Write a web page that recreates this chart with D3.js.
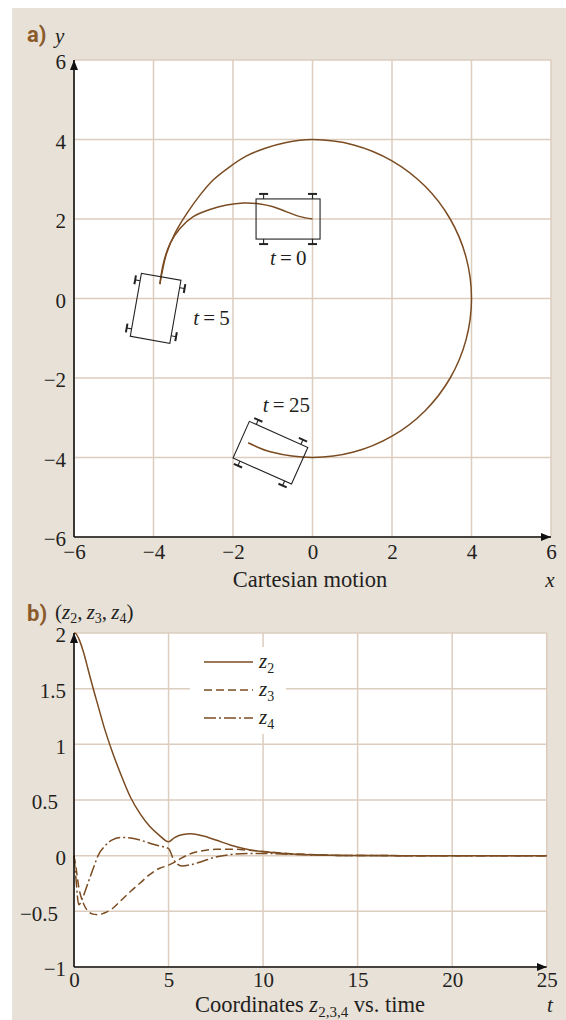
<!DOCTYPE html>
<html>
<head>
<meta charset="utf-8">
<script src="https://cdn.jsdelivr.net/npm/d3@7"></script>
<style>
body { margin: 0; background: #fff; }
text { fill: #231f20; }
</style>
</head>
<body>
<svg id="fig" width="566" height="1020"></svg>
<script>
// ---- data (panel a: cartesian motion) ----
var xyTicks = [-6, -4, -2, 0, 2, 4, 6];

// path t = 0 .. 5
var pathAx = [0, -0.31, -0.65, -0.99, -1.32, -1.74, -2.16, -2.58, -3.0, -3.33, -3.58, -3.75, -3.84];
var pathAy = [2.0, 2.06, 2.18, 2.31, 2.38, 2.40, 2.35, 2.24, 2.06, 1.77, 1.39, 0.89, 0.36];

// path t = 5 .. 25
var pathBx = [-3.84, -3.79, -3.67, -3.46, -3.16, -2.83, -2.50, -2.10, -1.67, -1.19, -0.69, 0, 1.035, 2.0, 2.828, 3.464,
              3.864, 4.0, 3.864, 3.464, 2.828, 2.0, 1.035, 0, -1.035, -1.62];
var pathBy = [0.36, 0.63, 1.14, 1.64, 2.14, 2.60, 2.98, 3.30, 3.58, 3.78, 3.92, 4.0, 3.864, 3.464, 2.828, 2.0,
              1.035, 0, -1.035, -2.0, -2.828, -3.464, -3.864, -4.0, -3.864, -3.63];

// robot snapshots
var carLabels = ["0", "5", "25"];
var carX = [0, -3.84, -1.62];
var carY = [2.0, 0.36, -3.63];
var carHeading = [180, 260, -24];     // degrees
var carLabelX = [-1.07, -3.0, -1.25];
var carLabelY = [0.84, -0.67, -2.85];

// ---- data (panel b: coordinates vs time) ----
var tTicks = [0, 5, 10, 15, 20, 25];
var zTicks = [-1, -0.5, 0, 0.5, 1, 1.5, 2];
var tVals = [0, 0.1, 0.25, 0.5, 0.75, 1.0, 1.3, 1.6, 2.0, 2.5, 3.0, 3.5, 4.0, 4.5, 5.0,
             5.3, 5.7, 6.2, 6.8, 7.5, 8.3, 9.2, 10.2, 11.5, 13, 15, 20, 25];
var z2 = [2.0, 1.995, 1.95, 1.83, 1.67, 1.51, 1.33, 1.15, 0.945, 0.72, 0.52, 0.376, 0.265, 0.185, 0.125,
          0.16, 0.188, 0.196, 0.178, 0.14, 0.094, 0.056, 0.032, 0.014, 0.005, 0.001, 0, 0];
var z3 = [0, -0.1, -0.28, -0.43, -0.5, -0.525, -0.53, -0.515, -0.48, -0.4, -0.32, -0.245, -0.17, -0.115, -0.085,
          -0.06, -0.02, 0.02, 0.045, 0.057, 0.058, 0.05, 0.035, 0.018, 0.007, 0.001, 0, 0];
var z4 = [0, -0.2, -0.44, -0.36, -0.24, -0.123, 0.01, 0.08, 0.14, 0.163, 0.158, 0.14, 0.112, 0.088, 0.064,
          -0.045, -0.092, -0.08, -0.05, -0.012, 0.01, 0.02, 0.02, 0.012, 0.005, 0.001, 0, 0];
var seriesNames = ["2", "3", "4"];
var seriesDash = [null, "8,4", "12,3,2,3"];

// ---- style ----
var beige = "#e8e1d8", gridCol = "#dccdbf", brown = "#7b4c22", labelBrown = "#8b5a2b";
var serif = "'Liberation Serif', 'Times New Roman', serif";
var sans = "Roboto, 'Liberation Sans', sans-serif";
var fs = 21, fsTitle = 22.5;

var svg = d3.select("#fig").style("font-family", serif);

svg.append("rect").attr("x", 12).attr("y", 8).attr("width", 554).attr("height", 1012).attr("fill", beige);

var defs = svg.append("defs");
defs.append("marker")
    .attr("id", "arrow")
    .attr("viewBox", "0 0 10 8")
    .attr("refX", 10).attr("refY", 4)
    .attr("markerWidth", 10).attr("markerHeight", 8)
    .attr("markerUnits", "userSpaceOnUse")
    .attr("orient", "auto")
  .append("path").attr("d", "M0,0L10,4L0,8Z").attr("fill", "#111");

function fmt(d) { return d < 0 ? "\u2212" + Math.abs(d) : String(d); }

function drawFrame(x, y, xt, yt) {
  var x0 = x.range()[0], x1 = x.range()[1], y0 = y.range()[0], y1 = y.range()[1];
  svg.append("rect").attr("x", x0).attr("y", y1).attr("width", x1 - x0).attr("height", y0 - y1).attr("fill", "#fff");
  var g = svg.append("g");
  g.selectAll(".vg").data(xt).enter().append("line")
    .attr("x1", d => x(d)).attr("x2", d => x(d)).attr("y1", y0).attr("y2", y1)
    .attr("stroke", gridCol).attr("stroke-width", 1.5);
  g.selectAll(".hg").data(yt).enter().append("line")
    .attr("x1", x0).attr("x2", x1).attr("y1", d => y(d)).attr("y2", d => y(d))
    .attr("stroke", gridCol).attr("stroke-width", 1.5);
}

function drawAxes(x, y, xt, yt, pad) {
  var x0 = x.range()[0], x1 = x.range()[1], y0 = y.range()[0], y1 = y.range()[1];
  var gx = svg.append("g").attr("transform", "translate(0," + y0 + ")")
    .call(d3.axisBottom(x).tickValues(xt).tickSize(0).tickPadding(pad).tickFormat(fmt))
    .attr("font-family", null).attr("font-size", fs);
  gx.select(".domain").remove();
  gx.selectAll("text").attr("dy", "0.45em").style("fill", "#231f20").style("font-family", serif);
  var gy = svg.append("g").attr("transform", "translate(" + x0 + ",0)")
    .call(d3.axisLeft(y).tickValues(yt).tickSize(0).tickPadding(8).tickFormat(fmt))
    .attr("font-family", null).attr("font-size", fs);
  gy.select(".domain").remove();
  gy.selectAll("text").attr("dy", "0.42em").style("fill", "#231f20").style("font-family", serif)
    .attr("dx", d => Math.abs(d) === 0.5 ? -8 : 0);
  svg.append("line").attr("x1", x0).attr("y1", y0).attr("x2", x1).attr("y2", y0)
    .attr("stroke", "#111").attr("stroke-width", 1.6).attr("marker-end", "url(#arrow)");
  svg.append("line").attr("x1", x0).attr("y1", y0).attr("x2", x0).attr("y2", y1)
    .attr("stroke", "#111").attr("stroke-width", 1.6).attr("marker-end", "url(#arrow)");
}

// ================= panel a =================
var ax = d3.scaleLinear().domain([-6, 6]).range([74, 551]);
var ay = d3.scaleLinear().domain([-6, 6]).range([537, 60]);
drawFrame(ax, ay, xyTicks, xyTicks);

var trajLine = d3.line().x(d => ax(d[0])).y(d => ay(d[1])).curve(d3.curveCatmullRom.alpha(0.5));
svg.append("path").datum(d3.zip(pathAx, pathAy)).attr("d", trajLine)
  .attr("fill", "none").attr("stroke", brown).attr("stroke-width", 1.5);
svg.append("path").datum(d3.zip(pathBx, pathBy)).attr("d", trajLine)
  .attr("fill", "none").attr("stroke", brown).attr("stroke-width", 1.5);

// robot bodies
var k = ax(1) - ax(0);
var rear = 0.19, front = 1.42, halfW = 0.505, wheelbase = 1.23;
carX.forEach(function(cx, i) {
  var g = svg.append("g")
    .attr("transform", "translate(" + ax(cx) + "," + ay(carY[i]) + ") rotate(" + (-carHeading[i]) + ")");
  g.append("rect").attr("x", -rear * k).attr("y", -halfW * k)
    .attr("width", (rear + front) * k).attr("height", 2 * halfW * k)
    .attr("fill", "none").attr("stroke", "#222").attr("stroke-width", 1.1);
  [0, wheelbase].forEach(function(u) {
    [-1, 1].forEach(function(s) {
      var yIn = s * halfW * k, yOut = s * (halfW * k + 5);
      g.append("line").attr("x1", u * k).attr("x2", u * k).attr("y1", yIn).attr("y2", yOut)
        .attr("stroke", "#222").attr("stroke-width", 1.1);
      g.append("line").attr("x1", u * k - 4.5).attr("x2", u * k + 4.5).attr("y1", yOut).attr("y2", yOut)
        .attr("stroke", "#222").attr("stroke-width", 2);
    });
  });
  var t = svg.append("text").attr("x", ax(carLabelX[i])).attr("y", ay(carLabelY[i])).attr("font-size", fs);
  t.append("tspan").attr("font-style", "italic").text("t");
  t.append("tspan").text("\u2009=\u2009" + carLabels[i]);
});

drawAxes(ax, ay, xyTicks, xyTicks, 13);

svg.append("text").attr("x", 27).attr("y", 42).attr("font-size", 22).attr("font-weight", "bold")
  .style("font-family", sans).style("fill", labelBrown).text("a)");
svg.append("text").attr("x", 55).attr("y", 43).attr("font-size", fs).attr("font-style", "italic").text("y");
svg.append("text").attr("x", 310).attr("y", 587).attr("font-size", fsTitle).attr("text-anchor", "middle")
  .text("Cartesian motion");
svg.append("text").attr("x", 550).attr("y", 587).attr("font-size", fs).attr("font-style", "italic")
  .attr("text-anchor", "middle").text("x");

// ================= panel b =================
var bx = d3.scaleLinear().domain([0, 25]).range([74, 546.7]);
var by = d3.scaleLinear().domain([-1, 2]).range([967, 633]);
drawFrame(bx, by, tTicks, zTicks);

// legend box
svg.append("rect").attr("x", 190).attr("y", 647).attr("width", 96).attr("height", 87).attr("fill", "#fff");

var zLine = d3.line().x(d => bx(d[0])).y(d => by(d[1])).curve(d3.curveMonotoneX);
[z2, z3, z4].forEach(function(vals, i) {
  svg.append("path").datum(d3.zip(tVals, vals)).attr("d", zLine)
    .attr("fill", "none").attr("stroke", brown).attr("stroke-width", 1.5)
    .attr("stroke-dasharray", seriesDash[i]);
  var ly = 662 + i * 28;
  svg.append("line").attr("x1", 204).attr("x2", 253).attr("y1", ly).attr("y2", ly)
    .attr("stroke", brown).attr("stroke-width", 1.5).attr("stroke-dasharray", seriesDash[i]);
  var lt = svg.append("text").attr("x", 259).attr("y", ly + 6).attr("font-size", fs);
  lt.append("tspan").attr("font-style", "italic").text("z");
  lt.append("tspan").attr("font-size", 14).attr("dy", 5).text(seriesNames[i]);
});

drawAxes(bx, by, tTicks, zTicks, 11);

svg.append("text").attr("x", 27).attr("y", 621).attr("font-size", 22).attr("font-weight", "bold")
  .style("font-family", sans).style("fill", labelBrown).text("b)");
var hb = svg.append("text").attr("x", 55).attr("y", 619).attr("font-size", fs);
seriesNames.forEach(function(n, i) {
  hb.append("tspan").attr("dy", i === 0 ? 0 : -4).text(i === 0 ? "(" : ",\u2009");
  hb.append("tspan").attr("font-style", "italic").text("z");
  hb.append("tspan").attr("font-size", 14).attr("dy", 4).text(n);
});
hb.append("tspan").attr("dy", -4).text(")");

var bt = svg.append("text").attr("x", 310).attr("y", 1012).attr("font-size", fsTitle).attr("text-anchor", "middle");
bt.append("tspan").text("Coordinates ");
bt.append("tspan").attr("font-style", "italic").text("z");
bt.append("tspan").attr("font-size", 15).attr("dy", 5).text("2,3,4");
bt.append("tspan").attr("dy", -5).text(" vs. time");
svg.append("text").attr("x", 550).attr("y", 1012).attr("font-size", fs).attr("font-style", "italic")
  .attr("text-anchor", "middle").text("t");
</script>
</body>
</html>
